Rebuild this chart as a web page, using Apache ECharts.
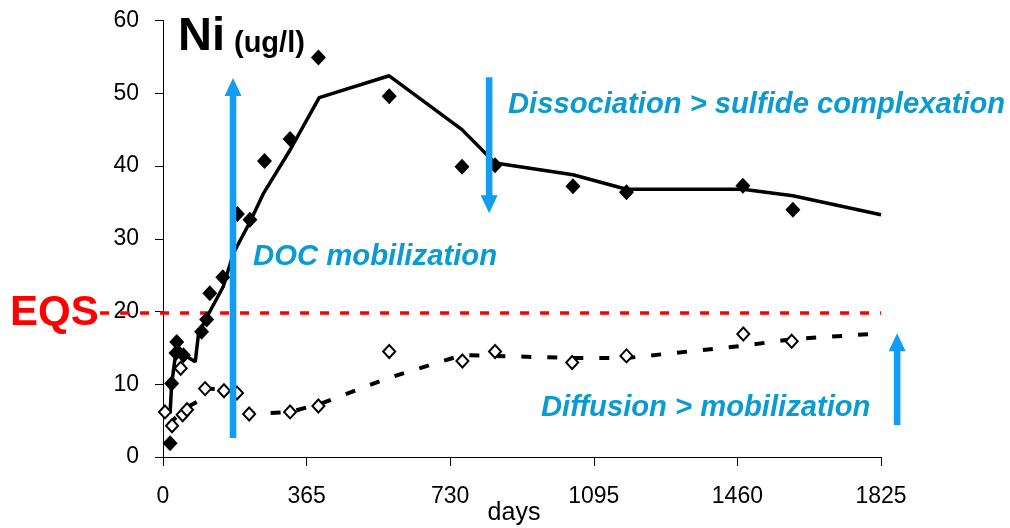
<!DOCTYPE html>
<html>
<head>
<meta charset="utf-8">
<script src="https://cdn.jsdelivr.net/npm/echarts@6/dist/echarts.min.js"></script>
<style>
  html, body { margin: 0; padding: 0; background: #fff; }
  #chart { width: 1010px; height: 528px; }
</style>
</head>
<body>
<div id="chart"></div>
<script>
// Time axis (days) and concentration axis ticks
const xTicks = [0, 365, 730, 1095, 1460, 1825];
const yTicks = [0, 10, 20, 30, 40, 50, 60];

// Measured Ni, DOC-mobilization site (filled diamonds)
const measDaysA = [18, 22, 33, 35, 52, 98, 111, 119, 152, 189, 221, 258, 323, 395, 575, 760, 844, 1042, 1178, 1474, 1601];
const measNiA   = [1.9, 10.1, 14.3, 15.8, 14.0, 17.2, 18.9, 22.5, 24.7, 33.4, 32.6, 40.7, 43.7, 54.9, 49.6, 39.9, 40.1, 37.2, 36.4, 37.3, 34.0];

// Modelled Ni, DOC-mobilization site (solid line)
const modelDaysA = [18, 22, 35, 60, 82, 90, 107, 153, 179, 221, 255, 323, 397, 575, 760, 844, 1042, 1178, 1474, 1601, 1825];
const modelNiA   = [6.0, 10.0, 15.4, 13.8, 13.1, 16.8, 18.8, 23.4, 28.0, 32.3, 36.2, 42.2, 49.4, 52.4, 45.0, 40.4, 38.8, 36.8, 36.8, 35.9, 33.3];

// Measured Ni, diffusion-dominated site (open diamonds)
const measDaysB = [5, 23, 50, 61, 45, 107, 155, 188, 219, 323, 395, 575, 761, 844, 1040, 1178, 1475, 1598];
const measNiB   = [6.2, 4.3, 5.8, 6.5, 12.2, 9.4, 9.1, 8.8, 5.9, 6.2, 7.0, 14.5, 13.2, 14.5, 13.0, 13.9, 16.9, 15.9];

// Modelled Ni, diffusion-dominated site (dashed line)
const modelDaysB = [15, 56, 94, 107, 155, 188, 219, 260, 323, 400, 575, 760, 844, 1042, 1178, 1474, 1601, 1825];
const modelNiB   = [4.5, 6.7, 7.8, 9.4, 9.3, 8.8, 6.0, 6.0, 6.2, 7.3, 10.9, 14.0, 13.9, 13.6, 13.6, 15.3, 16.2, 17.0];

// Environmental quality standard
const eqsValue = 19.8;

// Process arrows: [day, from value, to value]
const arrows = [
  [178, 2.6, 52.1],
  [829, 52.2, 33.5],
  [1866, 4.4, 17.0]
];

const pairs = (xs, ys) => xs.map((x, i) => [x, ys[i]]);
const FONT = "'Liberation Sans', Arial, sans-serif";
const BLUE_TEXT = '#0a9bd0';
const BLUE_ARROW = '#129cf2';

const chart = echarts.init(document.getElementById('chart'), null, { renderer: 'canvas' });

chart.setOption({
  animation: false,
  backgroundColor: '#fff',
  grid: { left: 163, right: 129, top: 20.5, bottom: 71, containLabel: false, outerBoundsMode: 'none' },
  xAxis: {
    type: 'value',
    min: xTicks[0],
    max: xTicks[xTicks.length - 1],
    interval: 365,
    name: 'days',
    nameLocation: 'middle',
    nameGap: 44,
    nameMoveOverlap: false,
    nameTextStyle: { color: '#000', fontSize: 25, fontFamily: FONT, padding: [0, 16, 0, 0] },
    axisLine: { lineStyle: { color: '#000', width: 1 } },
    axisTick: { show: true, length: 9, inside: false, lineStyle: { color: '#000' } },
    axisLabel: { color: '#000', fontSize: 23, fontFamily: FONT, margin: 28, formatter: v => String(v) },
    splitLine: { show: false }
  },
  yAxis: {
    type: 'value',
    min: yTicks[0],
    max: yTicks[yTicks.length - 1],
    interval: 10,
    axisLine: { show: true, lineStyle: { color: '#000', width: 1 } },
    axisTick: { show: true, length: 8, inside: false, lineStyle: { color: '#000' } },
    axisLabel: { color: '#000', fontSize: 23, fontFamily: FONT, margin: 24, formatter: v => String(v) },
    splitLine: { show: false }
  },
  series: [
    {
      type: 'line',
      data: pairs(modelDaysA, modelNiA),
      showSymbol: false,
      lineStyle: { color: '#000', width: 3.5 },
      z: 2
    },
    {
      type: 'line',
      data: pairs(modelDaysB, modelNiB),
      showSymbol: false,
      lineStyle: { color: '#000', width: 4, type: [10, 16] },
      z: 2
    },
    {
      type: 'scatter',
      data: pairs(measDaysA, measNiA),
      symbol: 'diamond',
      symbolSize: [15, 16],
      itemStyle: { color: '#000', opacity: 1 },
      z: 3
    },
    {
      type: 'scatter',
      data: pairs(measDaysB, measNiB),
      symbol: 'diamond',
      symbolSize: [12, 13],
      itemStyle: { color: '#fff', borderColor: '#000', borderWidth: 2, opacity: 1 },
      z: 3
    }
  ]
});

// Overlay: EQS line, process arrows and labels, placed via the axis scales
function px(x, y) { return chart.convertToPixel({ gridIndex: 0 }, [x, y]); }

const graphics = [];

const eqsStart = px(-160, eqsValue);
const eqsEnd = px(xTicks[xTicks.length - 1], eqsValue);
graphics.push({
  type: 'line',
  shape: { x1: eqsStart[0], y1: eqsStart[1], x2: eqsEnd[0], y2: eqsEnd[1] },
  style: { stroke: '#ff0000', lineWidth: 3.5, lineDash: [9, 11] },
  z: 1
});

arrows.forEach(([d, from, to]) => {
  const a = px(d, from);
  const b = px(d, to);
  const dir = b[1] < a[1] ? -1 : 1;
  const headLen = 18, headHalf = 8.5, shaftHalf = 3.3;
  const x = a[0];
  const baseY = b[1] - dir * headLen;
  graphics.push({
    type: 'polygon',
    shape: {
      points: [
        [x - shaftHalf, a[1]],
        [x - shaftHalf, baseY],
        [x - headHalf, baseY],
        [x, b[1]],
        [x + headHalf, baseY],
        [x + shaftHalf, baseY],
        [x + shaftHalf, a[1]]
      ]
    },
    style: { fill: BLUE_ARROW },
    z: 5
  });
});

function label(text, x, y, size, color, italic) {
  graphics.push({
    type: 'text',
    x: x, y: y,
    style: {
      text: text,
      fill: color,
      font: (italic ? 'italic ' : '') + 'bold ' + size + 'px ' + FONT,
      verticalAlign: 'middle',
      align: 'left'
    },
    z: 6
  });
}

label('Ni', 178, 37, 47, '#000', false);
label('(ug/l)', 234, 44, 29, '#000', false);
label('EQS', 10, 313, 42, '#ff0000', false);
label('DOC mobilization', 253, 257, 29.3, BLUE_TEXT, true);
label('Dissociation > sulfide complexation', 508, 105, 29.2, BLUE_TEXT, true);
label('Diffusion > mobilization', 541, 408, 29.2, BLUE_TEXT, true);

chart.setOption({ graphic: graphics });
</script>
</body>
</html>
